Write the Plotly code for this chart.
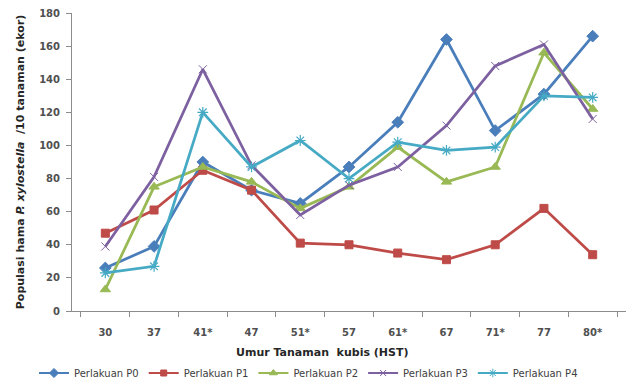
import plotly.graph_objects as go

# Umur tanaman (hari setelah tanam); * = hari aplikasi
umur = ["30", "37", "41*", "47", "51*", "57", "61*", "67", "71*", "77", "80*"]

p0 = [26, 39, 90, 73, 65, 87, 114, 164, 109, 131, 166]
p1 = [47, 61, 85, 73, 41, 40, 35, 31, 40, 62, 34]
p2 = [13, 75, 87, 78, 62, 75, 99, 78, 87, 156, 122]
p3 = [39, 81, 146, 88, 58, 76, 87, 112, 148, 161, 116]
p4 = [23, 27, 120, 87, 103, 80, 102, 97, 99, 130, 129]

# name, values, colour, marker symbol, marker size, marker outline width
series = [
    ("Perlakuan P0", p0, "#4A7EBB", "diamond", 9, 1),
    ("Perlakuan P1", p1, "#BE4B48", "square", 8, 1),
    ("Perlakuan P2", p2, "#98B954", "triangle-up", 9, 1),
    ("Perlakuan P3", p3, "#7D60A0", "x-thin-open", 8, 1),
    ("Perlakuan P4", p4, "#46AAC5", "asterisk-open", 9, 1.2),
]

fig = go.Figure()
for name, vals, color, sym, size, mlw in series:
    fig.add_trace(go.Scatter(
        x=umur, y=vals, name=name, mode="lines+markers", showlegend=False,
        legendgroup=name,
        line=dict(color=color, width=2.75),
        marker=dict(symbol=sym, size=size, color=color,
                    line=dict(color=color, width=mlw)),
    ))
# legend keys use thinner lines and smaller markers
for name, vals, color, sym, size, mlw in series:
    fig.add_trace(go.Scatter(
        x=[umur[0]], y=[None], name=name, mode="lines+markers",
        legendgroup=name,
        line=dict(color=color, width=2),
        marker=dict(symbol=sym, size=size - 2, color=color,
                    line=dict(color=color, width=1)),
    ))

tick_font = dict(family="DejaVu Sans", size=10, color="#505050", weight="bold")

fig.update_layout(
    width=628, height=383,
    margin=dict(l=72, r=2, t=13, b=72, autoexpand=False),
    paper_bgcolor="white", plot_bgcolor="white",
    font=dict(family="DejaVu Sans", size=11, color="#404040"),
    showlegend=True,
    legend=dict(orientation="h", xref="container", x=34 / 628, xanchor="left",
                yref="container", y=10 / 383, yanchor="middle",
                font=dict(size=10, color="#404040"),
                itemwidth=30, tracegroupgap=0),
    annotations=[dict(
        text="<b>Umur Tanaman  kubis (HST)</b>", xref="paper", yref="paper",
        x=(322 - 72) / 554, y=-41 / 298, xanchor="center", yanchor="middle",
        showarrow=False, font=dict(size=11, color="#262626"),
    )],
)
fig.update_xaxes(
    type="category", showline=True, linecolor="#8C8C8C", linewidth=1,
    ticks="outside", ticklen=5, tickcolor="#8C8C8C", tickson="boundaries",
    showgrid=False, tickfont=tick_font, ticklabelstandoff=12,
)
fig.update_yaxes(
    range=[0, 180], dtick=20, showline=True, linecolor="#8C8C8C", linewidth=1,
    ticks="outside", ticklen=5, tickcolor="#8C8C8C", showgrid=False,
    zeroline=False, tickfont=tick_font, ticklabelstandoff=4,
    title=dict(text="<b>Populasi hama <i>P. xylostella</i>  /10 tanaman (ekor)</b>",
               font=dict(size=11, color="#262626"), standoff=12),
)

fig.write_html("out.html")
